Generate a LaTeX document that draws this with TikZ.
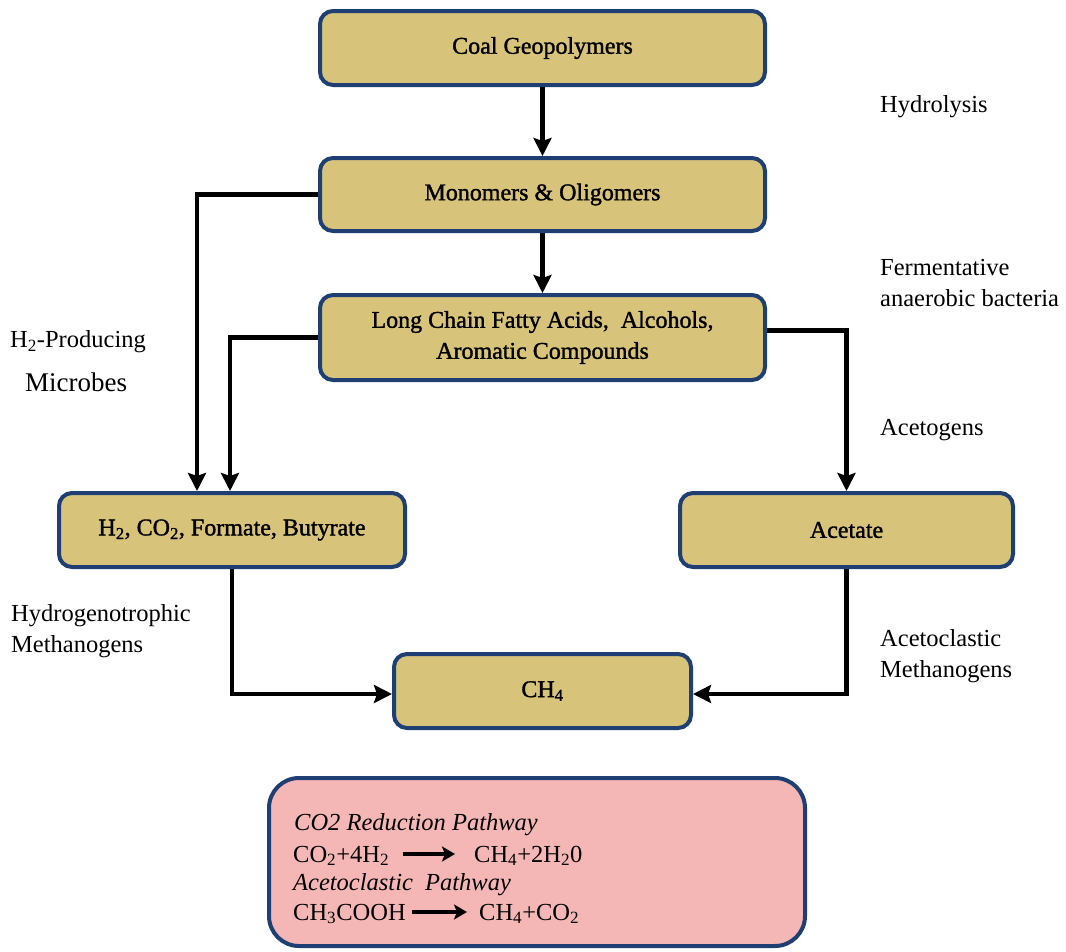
\documentclass[tikz,border=0pt]{standalone}
\usepackage{fontspec}
\setmainfont{Liberation Serif}
\newfontfamily\boxfont[FakeBold=1.4]{Liberation Serif}
\usetikzlibrary{arrows.meta}
\definecolor{tanfill}{HTML}{D8C37B}
\definecolor{navyline}{HTML}{1F3F73}
\definecolor{pinkfill}{HTML}{F4B7B5}
\begin{document}
\begin{tikzpicture}[x=1pt,y=-1pt,
  stage/.style={draw=navyline, line width=4pt, fill=tanfill, rounded corners=13pt,
    align=center, font=\boxfont\fontsize{24}{31}\selectfont, inner sep=0pt},
  lbl/.style={anchor=west, align=left, font=\fontsize{24.5}{31}\selectfont, inner sep=0pt},
  arr/.style={line width=4.5pt, -{Stealth[length=18pt,width=18pt,inset=3pt]}},
  eqtext/.style={anchor=base west, inner sep=0pt, font=\fontsize{24.5}{31}\selectfont},
  eqarr/.style={line width=3.2pt, -{Stealth[length=13pt,width=15pt,inset=3pt]}}]
\useasboundingbox (0,0) rectangle (1066,951);
\fill[white] (0,0) rectangle (1066,951);

% stage boxes
\node[stage, minimum width=445pt, minimum height=74pt] (coal) at (542.5,48) {Coal Geopolymers};
\node[stage, minimum width=445pt, minimum height=73pt] (mono) at (542.5,194.5) {Monomers \& Oligomers};
\node[stage, minimum width=445pt, minimum height=85pt] (long) at (542.5,337.5) {Long Chain Fatty Acids,~ Alcohols,\\Aromatic Compounds};
\node[stage, minimum width=346pt, minimum height=74pt] (h2) at (232,530) {H\textsubscript{2}, CO\textsubscript{2}, Formate, Butyrate};
\node[stage, minimum width=333pt, minimum height=74pt] (acetate) at (846.5,530) {Acetate};
\node[stage, minimum width=297pt, minimum height=74pt] (ch4) at (542.5,691) {CH\textsubscript{4}};

% side labels
\node[lbl] (hydrolysis) at (880,107) {Hydrolysis};
\node[lbl] (ferm) at (880,283) {Fermentative\\anaerobic bacteria};
\node[lbl] (acetogens) at (880,430) {Acetogens};
\node[lbl] (aceto) at (880,656) {Acetoclastic\\Methanogens};
\node[lbl] (hydro) at (11,631) {Hydrogenotrophic\\Methanogens};
\node[lbl] (h2prod) at (10,342) {H\textsubscript{2}-Producing};
\node[lbl, font=\fontsize{27}{31}\selectfont] (microbes) at (25,382) {Microbes};

% connectors
\draw[arr] (coal.south) -- (mono.north);
\draw[arr] (mono.south) -- (long.north);
\draw[arr] (mono.west) -| ([xshift=-35pt]h2.north);
\draw[arr] (long.west) -| ([xshift=-2pt]h2.north);
\draw[arr] ([yshift=7pt]long.east) -| (acetate.north);
\draw[arr] (h2.south) |- ([yshift=-3pt]ch4.west);
\draw[arr] (acetate.south) |- ([yshift=-3pt]ch4.east);

% pathway box
\node[draw=navyline, line width=4pt, fill=pinkfill, rounded corners=30pt,
  minimum width=536pt, minimum height=168pt, inner sep=0pt] (pathbox) at (537,862) {};
\node[eqtext, font=\itshape\fontsize{24.5}{31}\selectfont] (head1) at (294,830) {CO2 Reduction Pathway};
\node[eqtext] (e1l) at (293,862) {CO\textsubscript{2}+4H\textsubscript{2}};
\node[eqtext] (e1r) at (474,862) {CH\textsubscript{4}+2H\textsubscript{2}0};
\node[eqtext, font=\itshape\fontsize{24.5}{31}\selectfont] (head2) at (293,890) {Acetoclastic~ Pathway};
\node[eqtext] (e2l) at (293,920) {CH\textsubscript{3}COOH};
\node[eqtext] (e2r) at (479,920) {CH\textsubscript{4}+CO\textsubscript{2}};
\draw[eqarr] ([xshift=14pt,yshift=8pt]e1l.base east) -- ([xshift=-19pt,yshift=8pt]e1r.base west);
\draw[eqarr] ([xshift=6pt,yshift=8pt]e2l.base east) -- ([xshift=-12pt,yshift=8pt]e2r.base west);
\end{tikzpicture}
\end{document}
